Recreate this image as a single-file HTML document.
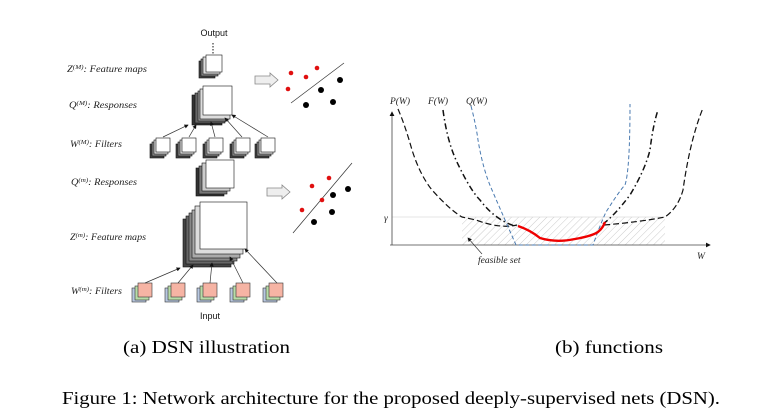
<!DOCTYPE html>
<html><head><meta charset="utf-8"><style>
html,body{margin:0;padding:0;background:#fff;}
svg{display:block;}
.it{font-family:"Liberation Serif",serif;font-style:italic;font-size:9.5px;fill:#222;}
.ar{font-family:"Liberation Sans",sans-serif;font-size:9px;fill:#111;}
.cap{font-family:"Liberation Serif",serif;font-size:18px;fill:#000;}
</style></head><body>
<svg width="772" height="420" viewBox="0 0 772 420" xmlns="http://www.w3.org/2000/svg">
<defs>
<marker id="ah" markerWidth="6" markerHeight="6" refX="5" refY="3" orient="auto"><path d="M0,0 L6,3 L0,6 z" fill="#111"/></marker>
<pattern id="hat" width="5" height="5" patternUnits="userSpaceOnUse" patternTransform="rotate(45)"><line x1="0" y1="0" x2="0" y2="5" stroke="#ccc" stroke-width="1"/></pattern>
<g id="fs"><rect x="-6" y="4" width="14" height="14" fill="#444" stroke="#111" stroke-width=".6"/><rect x="-4" y="2" width="14" height="14" fill="#888" stroke="#111" stroke-width=".6"/><rect x="-2" y="0" width="14" height="14" fill="#ddd" stroke="#111" stroke-width=".6"/><rect x="0" y="-2" width="14" height="14" fill="#fff" stroke="#111" stroke-width=".6"/></g>
<g id="pf"><rect x="-6" y="4" width="14" height="14" fill="#b8c8e0" stroke="#333" stroke-width=".6"/><rect x="-3" y="2" width="14" height="14" fill="#b8dca8" stroke="#333" stroke-width=".6"/><rect x="0" y="-1" width="14" height="14" fill="#f6b4a4" stroke="#333" stroke-width=".6"/></g>
</defs>

<text x="67" y="72" class="it" textLength="80" lengthAdjust="spacingAndGlyphs">Z<tspan font-size="6.5" dy="-3">(M)</tspan><tspan dy="3">: Feature maps</tspan></text>
<text x="69" y="108" class="it" textLength="68" lengthAdjust="spacingAndGlyphs">Q<tspan font-size="6.5" dy="-3">(M)</tspan><tspan dy="3">: Responses</tspan></text>
<text x="70" y="147" class="it" textLength="52" lengthAdjust="spacingAndGlyphs">W<tspan font-size="6.5" dy="-3">(M)</tspan><tspan dy="3">: Filters</tspan></text>
<text x="71" y="185" class="it" textLength="66" lengthAdjust="spacingAndGlyphs">Q<tspan font-size="6.5" dy="-3">(m)</tspan><tspan dy="3">: Responses</tspan></text>
<text x="70" y="240" class="it" textLength="76" lengthAdjust="spacingAndGlyphs">Z<tspan font-size="6.5" dy="-3">(m)</tspan><tspan dy="3">: Feature maps</tspan></text>
<text x="71" y="294" class="it" textLength="51" lengthAdjust="spacingAndGlyphs">W<tspan font-size="6.5" dy="-3">(m)</tspan><tspan dy="3">: Filters</tspan></text>

<text x="214" y="36" class="ar" text-anchor="middle">Output</text>
<line x1="213" y1="43" x2="213" y2="54" stroke="#111" stroke-dasharray="1.5,1.5"/>
<text x="210" y="319" class="ar" text-anchor="middle">Input</text>

<rect x="199" y="61" width="16" height="17" fill="#444" stroke="#111" stroke-width=".6"/>
<rect x="201" y="59" width="17" height="17" fill="#888" stroke="#111" stroke-width=".6"/>
<rect x="203" y="57" width="17" height="17" fill="#ddd" stroke="#111" stroke-width=".6"/>
<rect x="206" y="55" width="16" height="17" fill="#fff" stroke="#111" stroke-width=".6"/>
<rect x="192" y="95" width="30" height="30" fill="#333" stroke="#111" stroke-width=".6"/>
<rect x="195" y="93" width="30" height="30" fill="#666" stroke="#111" stroke-width=".6"/>
<rect x="198" y="91" width="30" height="30" fill="#999" stroke="#111" stroke-width=".6"/>
<rect x="200" y="89" width="30" height="30" fill="#ddd" stroke="#111" stroke-width=".6"/>
<rect x="203" y="86" width="29" height="29" fill="#fff" stroke="#111" stroke-width=".6"/>
<use href="#fs" x="156" y="140"/><use href="#fs" x="182" y="140"/><use href="#fs" x="209" y="140"/><use href="#fs" x="236" y="140"/><use href="#fs" x="261" y="140"/>
<g stroke="#333" stroke-width=".7" marker-end="url(#ah)">
<line x1="163" y1="137" x2="188" y2="125"/><line x1="189" y1="137" x2="196" y2="125"/><line x1="215" y1="137" x2="211" y2="122"/><line x1="242" y1="137" x2="225" y2="118"/><line x1="268" y1="137" x2="232" y2="115"/>
</g>
<rect x="196" y="168" width="28" height="28" fill="#333" stroke="#111" stroke-width=".6"/>
<rect x="199" y="166" width="28" height="28" fill="#777" stroke="#111" stroke-width=".6"/>
<rect x="202" y="163" width="28" height="28" fill="#ccc" stroke="#111" stroke-width=".6"/>
<rect x="206" y="160" width="28" height="28" fill="#fff" stroke="#111" stroke-width=".6"/>
<rect x="183" y="219" width="48" height="48" fill="#444" stroke="#111" stroke-width=".6"/>
<rect x="186" y="216" width="48" height="48" fill="#666" stroke="#111" stroke-width=".6"/>
<rect x="189" y="213" width="48" height="48" fill="#888" stroke="#111" stroke-width=".6"/>
<rect x="192" y="210" width="48" height="48" fill="#aaa" stroke="#111" stroke-width=".6"/>
<rect x="195" y="206" width="48" height="48" fill="#ddd" stroke="#111" stroke-width=".6"/>
<rect x="200" y="202" width="47" height="47" fill="#fff" stroke="#111" stroke-width=".6"/>
<use href="#pf" x="138" y="284"/><use href="#pf" x="171" y="284"/><use href="#pf" x="203" y="284"/><use href="#pf" x="236" y="284"/><use href="#pf" x="269" y="284"/>
<g stroke="#333" stroke-width=".7" marker-end="url(#ah)">
<line x1="145" y1="283" x2="180" y2="268"/><line x1="178" y1="283" x2="193" y2="265"/><line x1="210" y1="283" x2="212" y2="263"/><line x1="243" y1="283" x2="230" y2="257"/><line x1="277" y1="283" x2="245" y2="249"/>
</g>

<path d="M255,76 L270,76 L270,73 L278,80 L270,87 L270,84 L255,84 Z" fill="#eee" stroke="#888" stroke-width=".8"/>
<path d="M267,188 L282,188 L282,185 L290,192 L282,199 L282,196 L267,196 Z" fill="#eee" stroke="#888" stroke-width=".8"/>
<line x1="344" y1="63" x2="291" y2="103" stroke="#333" stroke-width=".7"/>
<g fill="#e01010"><circle cx="291" cy="73" r="2.3"/><circle cx="306" cy="77" r="2.3"/><circle cx="317" cy="68" r="2.3"/><circle cx="288" cy="89" r="2.3"/></g>
<g fill="#000"><circle cx="340" cy="80" r="3"/><circle cx="321" cy="90" r="3"/><circle cx="306" cy="105" r="3"/><circle cx="333" cy="102" r="3"/></g>
<line x1="352" y1="163" x2="293" y2="233" stroke="#333" stroke-width=".7"/>
<g fill="#e01010"><circle cx="312" cy="186" r="2.3"/><circle cx="329" cy="178" r="2.3"/><circle cx="322" cy="200" r="2.3"/><circle cx="302" cy="210" r="2.3"/></g>
<g fill="#000"><circle cx="348" cy="189" r="3"/><circle cx="333" cy="195" r="3"/><circle cx="332" cy="212" r="3"/><circle cx="314" cy="222" r="3"/></g>

<rect x="462" y="217" width="203" height="28" fill="url(#hat)"/>
<line x1="392" y1="217" x2="665" y2="217" stroke="#ccc" stroke-width=".6"/>
<line x1="392" y1="245" x2="392" y2="112" stroke="#444" stroke-width=".8" marker-end="url(#ah)"/>
<line x1="390" y1="245" x2="710" y2="245" stroke="#444" stroke-width=".8" marker-end="url(#ah)"/>
<text x="384" y="221" class="it">γ</text>
<text x="390" y="104" class="it">P(W)</text>
<text x="428" y="104" class="it">F(W)</text>
<text x="466" y="104" class="it">Q(W)</text>
<text x="697" y="259" class="it" font-size="11">W</text>
<text x="478" y="263" class="it">feasible set</text>
<line x1="482" y1="254" x2="468" y2="238" stroke="#333" stroke-width=".7" marker-end="url(#ah)"/>
<path d="M398,109 Q405,125 412,150 Q420,175 432,190 Q450,210 462,217 L476,220 Q500,229 517,225 M604,225 Q640,222 665,217 Q678,208 683,190 Q690,140 703,108" fill="none" stroke="#111" stroke-width="1.2" stroke-dasharray="6,3"/>
<path d="M443,110 Q447,140 456,160 Q470,190 480,200 Q495,220 515,226 M603,224 Q615,215 630,195 Q645,170 650,150 Q653,125 658,110" fill="none" stroke="#111" stroke-width="1.5" stroke-dasharray="6,3,1.5,3"/>
<path d="M471,106 Q476,125 478,140 Q483,170 492,190 Q505,220 516,245 L593,245 Q600,225 606,212 Q620,190 625,185 Q630,170 630,104" fill="none" stroke="#4a7ab0" stroke-width="1" stroke-dasharray="4,2.5"/>
<path d="M518,226 Q530,230 540,238 Q556,243 575,239 Q592,236 598,232 Q603,228 605,222" fill="none" stroke="#e00" stroke-width="2.4"/>

<text x="123" y="353" class="cap" textLength="167" lengthAdjust="spacingAndGlyphs">(a) DSN illustration</text>
<text x="555" y="353" class="cap" textLength="108" lengthAdjust="spacingAndGlyphs">(b) functions</text>
<text x="62" y="404" class="cap" textLength="658" lengthAdjust="spacingAndGlyphs">Figure 1: Network architecture for the proposed deeply-supervised nets (DSN).</text>
</svg>
</body></html>
